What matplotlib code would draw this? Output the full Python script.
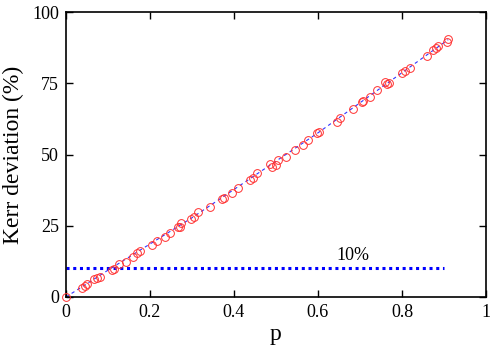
import matplotlib
matplotlib.use("Agg")
import matplotlib.pyplot as plt
import numpy as np

plt.rcParams['font.family'] = ['Liberation Serif', 'DejaVu Serif']
plt.rcParams['mathtext.fontset'] = 'stix'

p_vals = [0.0, 0.037, 0.045, 0.051, 0.067, 0.073, 0.081, 0.109, 0.114, 0.127, 0.143,
          0.159, 0.170, 0.176, 0.204, 0.217, 0.236, 0.248, 0.267, 0.271, 0.275, 0.297,
          0.305, 0.315, 0.343, 0.371, 0.376, 0.395, 0.410, 0.438, 0.446, 0.455, 0.486,
          0.490, 0.500, 0.505, 0.523, 0.545, 0.564, 0.577, 0.598, 0.603, 0.645, 0.652,
          0.684, 0.704, 0.708, 0.724, 0.741, 0.760, 0.764, 0.770, 0.799, 0.807, 0.819,
          0.859, 0.875, 0.881, 0.886, 0.906, 0.910]
kerr_dev = [0.0, 3.0, 4.0, 4.5, 6.2, 6.8, 7.1, 9.5, 9.9, 11.6, 12.4,
            14.2, 15.3, 16.2, 18.2, 19.8, 21.2, 22.3, 24.7, 24.4, 26.1, 27.4,
            28.2, 29.7, 31.5, 34.3, 34.8, 36.6, 38.1, 41.1, 41.6, 43.4, 46.7,
            45.7, 46.3, 48.1, 49.2, 51.6, 53.3, 55.1, 57.4, 58.0, 61.5, 62.7,
            65.9, 68.5, 68.9, 70.3, 72.6, 75.5, 74.7, 75.0, 78.5, 79.3, 80.5,
            84.6, 86.7, 87.3, 88.1, 89.6, 90.5]

fit_p = [0.0, 0.1, 0.3, 0.6, 0.91]
fit_y = [0.0, 9.4, 27.8, 57.6, 90.3]

thr_p = [0.0, 0.9]
thr_y = [10, 10]
thr_label = "10%"

xticks = [0, 0.2, 0.4, 0.6, 0.8, 1]
xticklabels = ["0", "0.2", "0.4", "0.6", "0.8", "1"]
yticks = [0, 25, 50, 75, 100]

fig = plt.figure(figsize=(4.95, 3.49), dpi=100)
ax = fig.add_axes([0.1333, 0.149, 0.8485, 0.8166])

ax.plot(fit_p, fit_y, color='#3333ff', lw=0.8, ls=(0, (3, 3)), zorder=2)
ax.plot(p_vals, kerr_dev, ls='none', marker='o', ms=5.6, mfc='none', mec='#ff3030',
        mew=0.7, zorder=3, clip_on=False)
ax.plot(thr_p, thr_y, color='#0000ff', lw=2.2, ls=(0, (1, 1.2)), zorder=2)
ax.text(0.683, 14.5, thr_label, fontsize=13, ha='center', va='center')

ax.set_xlim(0, 1)
ax.set_ylim(0, 100)
ax.set_xticks(xticks)
ax.set_xticklabels(xticklabels)
ax.set_yticks(yticks)
ax.tick_params(direction='in', top=True, right=True, length=5, width=1, labelsize=13, pad=5)
for s in ax.spines.values():
    s.set_linewidth(1.2)
ax.set_xlabel('p', fontsize=17, labelpad=2)
ax.set_ylabel('Kerr deviation (%)', fontsize=17, labelpad=6)

fig.savefig('out.png', dpi=100)
